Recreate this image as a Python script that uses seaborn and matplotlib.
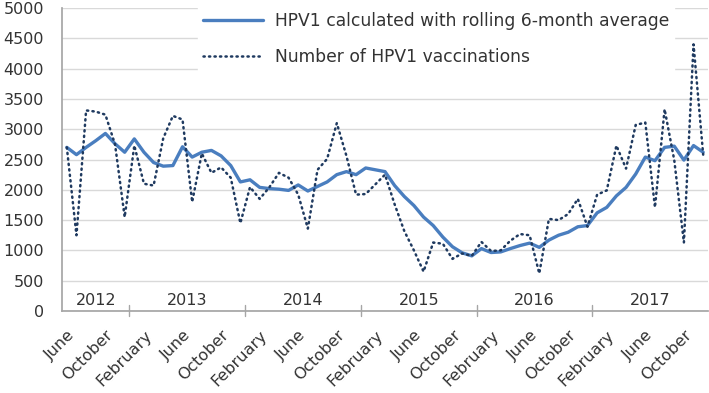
# HPV1 vaccinations per month, June 2012 - December 2017
import numpy as np
import pandas as pd
import seaborn as sns
from matplotlib import pyplot as plt
from matplotlib.transforms import blended_transform_factory

# month names for each point (June 2012 .. December 2017)
month_names = ['January', 'February', 'March', 'April', 'May', 'June', 'July',
               'August', 'September', 'October', 'November', 'December']
months = month_names[5:] + month_names * 5
years = ['2012', '2013', '2014', '2015', '2016', '2017']
year_lengths = [7, 12, 12, 12, 12, 12]

# number of HPV1 vaccinations (dotted)
vaccinations = [2700, 1250, 3310, 3290, 3240, 2750, 1550,
                2730, 2100, 2070, 2850, 3220, 3160, 1800, 2600, 2280, 2370, 2200, 1450,
                2045, 1850, 2040, 2280, 2200, 1920, 1360, 2330, 2510, 3100, 2560, 1920,
                1930, 2090, 2250, 1760, 1320, 1000, 650, 1130, 1110, 860, 950, 910,
                1140, 990, 1000, 1160, 1270, 1250, 620, 1520, 1500, 1600, 1850, 1390,
                1920, 1990, 2730, 2350, 3070, 3110, 1710, 3330, 2490, 1130, 4400, 2580]

# rolling 6-month average (solid)
rolling = [2700, 2580, 2700, 2810, 2930, 2760, 2620,
           2840, 2620, 2450, 2390, 2400, 2710, 2540, 2620, 2650, 2560, 2400, 2130,
           2165, 2040, 2020, 2010, 1990, 2080, 1980, 2055, 2130, 2250, 2300, 2250,
           2360, 2330, 2300, 2070, 1890, 1740, 1550, 1410, 1220, 1060, 960, 910,
           1030, 965, 975, 1030, 1080, 1120, 1050, 1170, 1250, 1300, 1390, 1410,
           1620, 1710, 1900, 2040, 2260, 2540, 2480, 2700, 2720, 2490, 2730, 2620]

df = pd.DataFrame({'idx': np.arange(len(months)), 'month': months,
                   'vacc': vaccinations, 'rolling': rolling})

sns.set_theme(style='white')
plt.rcParams['font.family'] = ['DejaVu Sans']

fig = plt.figure(figsize=(7.09, 3.93), dpi=100)
ax = fig.add_axes([62 / 709, 1 - 311 / 393, 646 / 709, 303 / 393])

sns.lineplot(data=df, x='idx', y='rolling', ax=ax, color='#4a7ebf', lw=2.4,
             label='HPV1 calculated with rolling 6-month average')
sns.lineplot(data=df, x='idx', y='vacc', ax=ax, color='#1f3a60', lw=1.8,
             linestyle=(0, (0.5, 1.7)), dash_capstyle='round',
             label='Number of HPV1 vaccinations')

ax.set_xlim(-0.5, len(months) - 0.5)
ax.set_ylim(0, 5000)
ax.set_yticks(np.arange(0, 5001, 500))
ax.yaxis.grid(True, color='#d9d9d9', lw=1)
ax.set_axisbelow(True)
ax.tick_params(axis='y', length=0, pad=13, labelsize=11.5, labelcolor='#333333')

# month labels every fourth month
ax.set_xticks(df['idx'][::4])
ax.set_xticklabels(df['month'][::4], rotation=45, ha='right',
                   rotation_mode='anchor', fontsize=11.5, color='#333333')
ax.tick_params(axis='x', length=0, pad=12)

# small ticks between months, taller ones between years
bounds = np.cumsum(year_lengths) - 0.5
ax.set_xticks(np.arange(-0.5, len(months), 1), minor=True)
ax.tick_params(axis='x', which='minor', length=5, color='#a6a6a6', width=1)
trans = blended_transform_factory(ax.transData, ax.transAxes)
for b in bounds[:-1]:
    ax.plot([b, b], [-0.017, 0.02], color='#a6a6a6', lw=1, transform=trans,
            clip_on=False)

# year labels above the axis
start = -0.5
for yr, n in zip(years, year_lengths):
    ax.text(start + n / 2, 0.036, yr, transform=trans, ha='center', va='center',
            fontsize=11.5, color='#333333')
    start += n

for side in ['top', 'right']:
    ax.spines[side].set_visible(False)
ax.spines['left'].set_color('#a6a6a6')
ax.spines['bottom'].set_color('#a6a6a6')
ax.set_xlabel('')
ax.set_ylabel('')

leg = ax.legend(loc='upper left', bbox_to_anchor=(198 / 709, 1 - 7 / 393),
                bbox_transform=fig.transFigure, fontsize=12.3, frameon=True,
                facecolor='white', edgecolor='white', framealpha=1, fancybox=False,
                handlelength=3.5, handletextpad=0.7, labelspacing=1.05,
                borderpad=0.3, borderaxespad=0)
for t in leg.get_texts():
    t.set_color('#333333')

plt.savefig('out.png', dpi=100)
